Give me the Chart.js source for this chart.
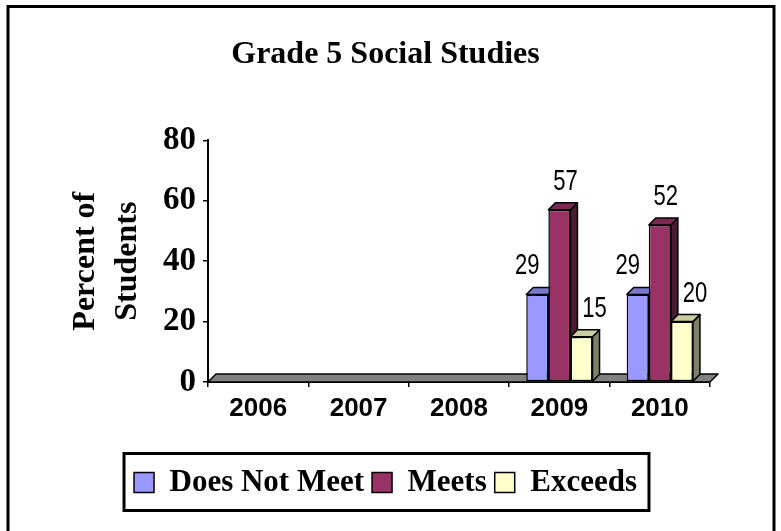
<!DOCTYPE html>
<html>
<head>
<meta charset="utf-8">
<script src="https://cdn.jsdelivr.net/npm/chart.js@4"></script>
<style>
  html, body { margin: 0; padding: 0; background: #fff; }
  #wrap { width: 781px; height: 531px; position: relative; }
</style>
</head>
<body>
<div id="wrap"><canvas id="chart"></canvas></div>
<script>
// data
const years = ['2006', '2007', '2008', '2009', '2010'];
const doesNotMeet = [null, null, null, 29, 29];
const meets = [null, null, null, 57, 52];
const exceeds = [null, null, null, 15, 20];
const seriesNames = ['Does Not Meet', 'Meets', 'Exceeds'];

const SERIF = '"Liberation Serif", "Times New Roman", serif';
const SANS = '"Liberation Sans", Arial, sans-serif';

// front / top / side shades for the fake 3D bars
const SHADES = [
  { front: '#9999ff', top: '#7a7acc', side: '#4d4d80' },
  { front: '#993366', top: '#7a2952', side: '#4d1a33' },
  { front: '#ffffcc', top: '#cccca3', side: '#808066' },
];
const LABEL_DX = [-10, 6, 13];
const BAR_DEPTH = 7;
const FLOOR_DEPTH = 8;

const frame = {
  id: 'frame',
  beforeDraw(chart) {
    const ctx = chart.ctx;
    ctx.save();
    ctx.fillStyle = '#fff';
    ctx.fillRect(0, 0, chart.width, chart.height);
    ctx.strokeStyle = '#000';
    ctx.lineWidth = 3;
    ctx.strokeRect(8, 6.5, 766, 600);
    ctx.restore();
  },
  afterDraw(chart) {
    // box round the legend
    const boxes = chart.legend.legendHitBoxes;
    if (!boxes || !boxes.length) return;
    const l = Math.min(...boxes.map(b => b.left)) - 10;
    const r = Math.max(...boxes.map(b => b.left + b.width)) + 12;
    const cy = boxes[0].top + boxes[0].height / 2;
    const ctx = chart.ctx;
    ctx.save();
    ctx.strokeStyle = '#000';
    ctx.lineWidth = 3;
    ctx.strokeRect(l, cy - 29, r - l, 57);
    ctx.restore();
  },
};

function poly(ctx, pts, fill) {
  ctx.beginPath();
  ctx.moveTo(pts[0][0], pts[0][1]);
  for (let i = 1; i < pts.length; i++) ctx.lineTo(pts[i][0], pts[i][1]);
  ctx.closePath();
  ctx.fillStyle = fill;
  ctx.fill();
  ctx.stroke();
}

// floor + the top/side faces go under the front faces that Chart.js draws
const depth = {
  id: 'depth',
  beforeDatasetsDraw(chart) {
    const ctx = chart.ctx;
    const { left, right, bottom } = chart.chartArea;
    const f = FLOOR_DEPTH;
    ctx.save();
    ctx.strokeStyle = '#000';
    ctx.lineWidth = 1.5;
    ctx.lineJoin = 'round';
    poly(ctx, [[left, bottom], [left + f, bottom - f], [right + f, bottom - f], [right, bottom]], '#808080');

    const d = BAR_DEPTH;
    chart.data.datasets.forEach((ds, di) => {
      const shade = SHADES[di];
      chart.getDatasetMeta(di).data.forEach((bar, i) => {
        if (ds.data[i] == null) return;
        const { x, y, base, width } = bar.getProps(['x', 'y', 'base', 'width'], true);
        const l = x - width / 2, r = x + width / 2;
        poly(ctx, [[r, y], [r + d, y - d], [r + d, base - d], [r, base]], shade.side);
        poly(ctx, [[l, y], [l + d, y - d], [r + d, y - d], [r, y]], shade.top);
      });
    });
    ctx.restore();
  },
  afterDatasetsDraw(chart) {
    const ctx = chart.ctx;
    ctx.save();
    ctx.fillStyle = '#000';
    ctx.font = '29px ' + SANS;
    ctx.textAlign = 'center';
    ctx.textBaseline = 'middle';
    chart.data.datasets.forEach((ds, di) => {
      chart.getDatasetMeta(di).data.forEach((bar, i) => {
        if (ds.data[i] == null) return;
        const { x, y } = bar.getProps(['x', 'y'], true);
        ctx.save();
        ctx.translate(x + LABEL_DX[di], y - 28);
        ctx.scale(0.76, 1);
        ctx.fillText(String(ds.data[i]), 0, 0);
        ctx.restore();
      });
    });
    ctx.restore();
  },
};

const seriesData = [doesNotMeet, meets, exceeds];

new Chart(document.getElementById('chart'), {
  type: 'bar',
  data: {
    labels: years,
    datasets: seriesData.map((vals, i) => ({
      label: seriesNames[i],
      data: vals,
      backgroundColor: SHADES[i].front,
      borderColor: '#000',
      borderWidth: 1.5,
      borderSkipped: false,
      barPercentage: 1,
      categoryPercentage: 0.66,
    })),
  },
  options: {
    responsive: true,
    maintainAspectRatio: false,
    animation: false,
    layout: { padding: { left: 61, right: 71, top: 0, bottom: 23 } },
    plugins: {
      tooltip: { enabled: false },
      title: {
        display: true,
        text: 'Grade 5 Social Studies',
        color: '#000',
        font: { family: SERIF, size: 32, weight: 'bold', lineHeight: 1.2 },
        padding: { top: 36, bottom: 66 },
      },
      legend: {
        position: 'bottom',
        labels: {
          color: '#000',
          boxWidth: 20,
          boxHeight: 20,
          padding: 8,
          font: { family: SERIF, size: 31, weight: 'bold' },
        },
      },
    },
    scales: {
      x: {
        afterFit: (s) => { s.height = 77; },
        grid: { offset: true, drawOnChartArea: false, tickLength: 5, color: '#000', lineWidth: 1.5 },
        border: { display: true, color: '#000', width: 2 },
        ticks: { color: '#000', padding: 6, font: { family: SANS, size: 26, weight: 'bold' } },
      },
      y: {
        min: 0,
        max: 80,
        afterFit: (s) => { s.width = 208 - 61; },
        grid: { drawOnChartArea: false, tickLength: 5, color: '#000', lineWidth: 1.5 },
        border: { display: true, color: '#000', width: 2 },
        ticks: { stepSize: 20, color: '#000', padding: 7, font: { family: SERIF, size: 33, weight: 'bold' } },
        title: {
          display: true,
          text: ['Percent of', 'Students'],
          color: '#000',
          font: { family: SERIF, size: 32, weight: 'bold', lineHeight: 1.3125 },
          padding: { top: 4, bottom: 0 },
        },
      },
    },
  },
  plugins: [frame, depth],
});
</script>
</body>
</html>
